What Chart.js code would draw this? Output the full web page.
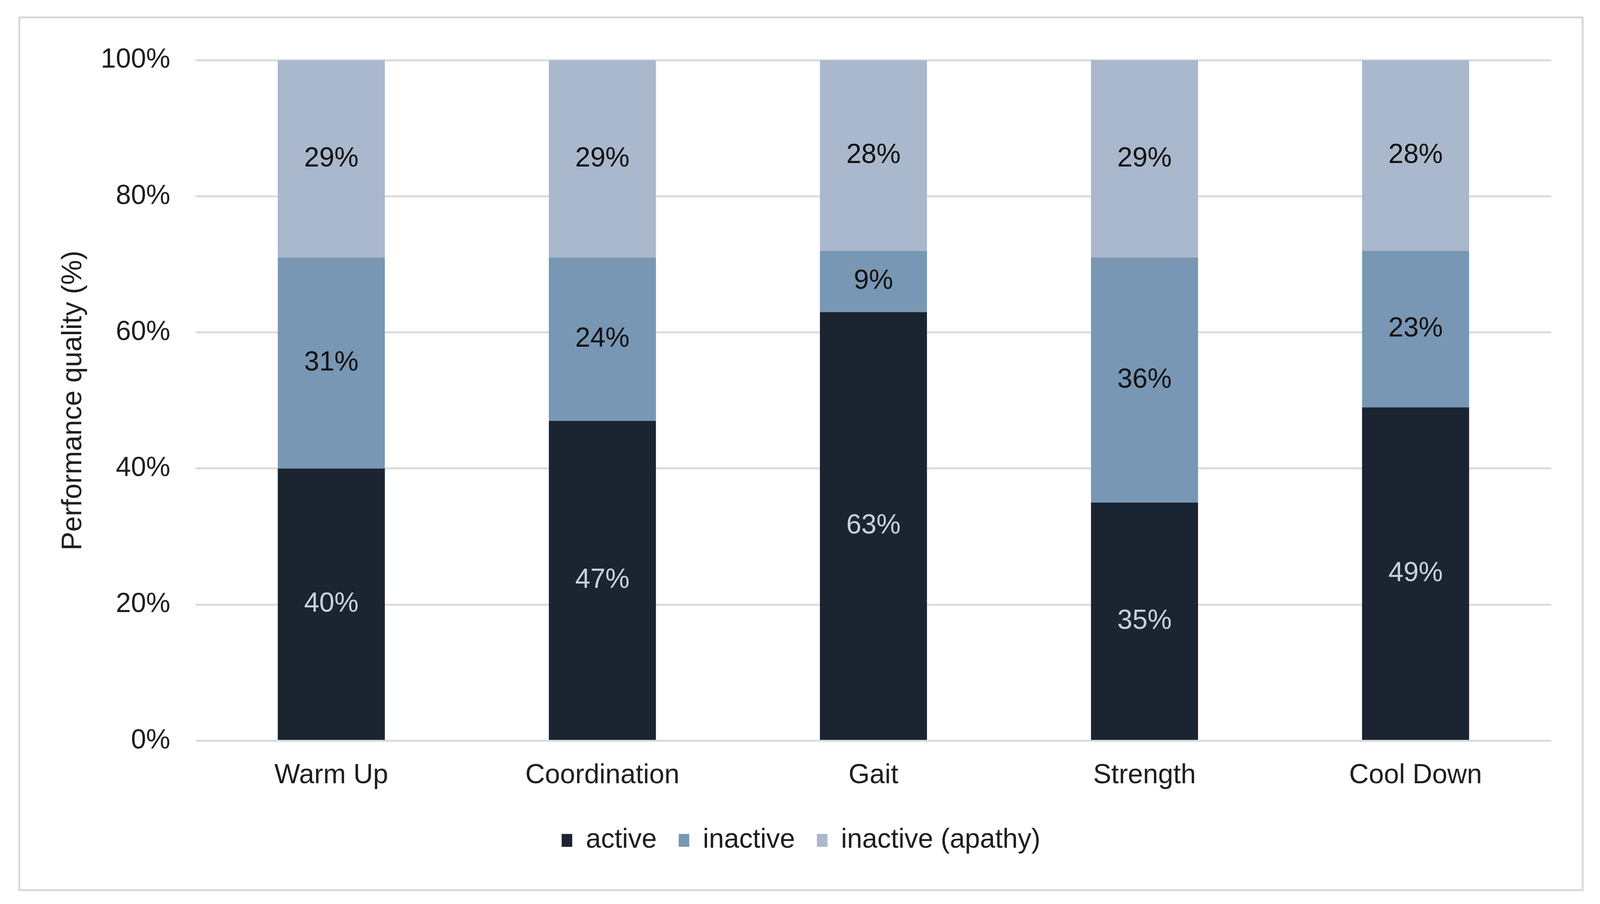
<!DOCTYPE html>
<html>
<head>
<meta charset="utf-8">
<script src="https://cdn.jsdelivr.net/npm/chart.js@4.4.1/dist/chart.umd.min.js"></script>
<style>
    html, body { margin: 0; padding: 0; background: #ffffff; width: 100%; height: 100%; overflow: hidden; }
    #frame { position: absolute; box-sizing: border-box; border-style: solid; border-color: #d9d9d9; background: #ffffff; }
    #frame canvas { display: block; }
</style>
</head>
<body>
<div id="frame"><canvas id="qualityChart"></canvas></div>
<script>
const categories = ['Warm Up', 'Coordination', 'Gait', 'Strength', 'Cool Down'];
const activeValues = [40, 47, 63, 35, 49];
const inactiveValues = [31, 24, 9, 36, 23];
const apathyValues = [29, 29, 28, 29, 28];
const yTicks = [0, 20, 40, 60, 80, 100];

const FONT = '"Liberation Sans", Arial, sans-serif';
const TEXT = '#1e1e1e';

// layout is measured on a 4386x2313 picture; map it onto the real viewport
const SX = (window.innerWidth || document.documentElement.clientWidth || 4386) / 4386;
const SY = (window.innerHeight || document.documentElement.clientHeight || 2313) / 2313;
const SF = Math.sqrt(SX * SY);
const hx = (v) => v * SX;
const vy = (v) => v * SY;
const fs = (v) => v * SF;

const frame = document.getElementById('frame');
frame.style.left = hx(50) + 'px';
frame.style.top = vy(42) + 'px';
frame.style.width = hx(4291) + 'px';
frame.style.height = vy(2238) + 'px';
frame.style.borderWidth = fs(6) + 'px';

// percentage labels in the middle of every stacked segment
const segmentLabels = {
    id: 'segmentLabels',
    afterDatasetsDraw(chart) {
        const ctx = chart.ctx;
        ctx.save();
        ctx.font = fs(72) + 'px ' + FONT;
        ctx.textAlign = 'center';
        ctx.textBaseline = 'middle';
        chart.data.datasets.forEach((ds, i) => {
            const meta = chart.getDatasetMeta(i);
            meta.data.forEach((bar, j) => {
                const p = bar.getCenterPoint();
                ctx.fillStyle = ds.labelColor;
                ctx.fillText(ds.data[j] + '%', p.x, p.y);
            });
        });
        ctx.restore();
    }
};

const ctx = document.getElementById('qualityChart').getContext('2d');
new Chart(ctx, {
    type: 'bar',
    data: {
        labels: categories,
        datasets: [
            { label: 'active', data: activeValues, backgroundColor: '#1b2532', labelColor: '#c8d1dd' },
            { label: 'inactive', data: inactiveValues, backgroundColor: '#7897b4', labelColor: '#111111' },
            { label: 'inactive (apathy)', data: apathyValues, backgroundColor: '#a9b8cc', labelColor: '#111111' }
        ]
    },
    options: {
        responsive: true,
        maintainAspectRatio: false,
        animation: false,
        categoryPercentage: 0.79,
        barPercentage: 0.5,
        layout: { padding: { left: hx(84), right: hx(84), top: vy(64), bottom: vy(80) } },
        plugins: {
            tooltip: { enabled: false },
            legend: {
                position: 'bottom',
                labels: {
                    color: TEXT,
                    font: { family: FONT, size: fs(72) },
                    boxWidth: fs(28),
                    boxHeight: fs(34),
                    padding: fs(58)
                }
            }
        },
        scales: {
            x: {
                stacked: true,
                grid: { display: false },
                border: { display: false },
                ticks: { color: TEXT, font: { family: FONT, size: fs(72) }, padding: vy(40), maxRotation: 0 },
                afterFit: (scale) => { scale.height = vy(164); }
            },
            y: {
                stacked: true,
                min: 0,
                max: 100,
                afterBuildTicks: (scale) => { scale.ticks = yTicks.map(v => ({ value: v })); },
                grid: { color: '#d9d9d9', lineWidth: fs(5), drawTicks: false },
                border: { display: false },
                ticks: {
                    color: TEXT,
                    font: { family: FONT, size: fs(72) },
                    padding: hx(70),
                    callback: (value) => value + '%'
                },
                title: {
                    display: true,
                    text: 'Performance quality (%)',
                    color: TEXT,
                    font: { family: FONT, size: fs(74) },
                    padding: { top: hx(16), bottom: 0 }
                },
                afterFit: (scale) => { scale.width = hx(397); }
            }
        }
    },
    plugins: [segmentLabels]
});
</script>
</body>
</html>
